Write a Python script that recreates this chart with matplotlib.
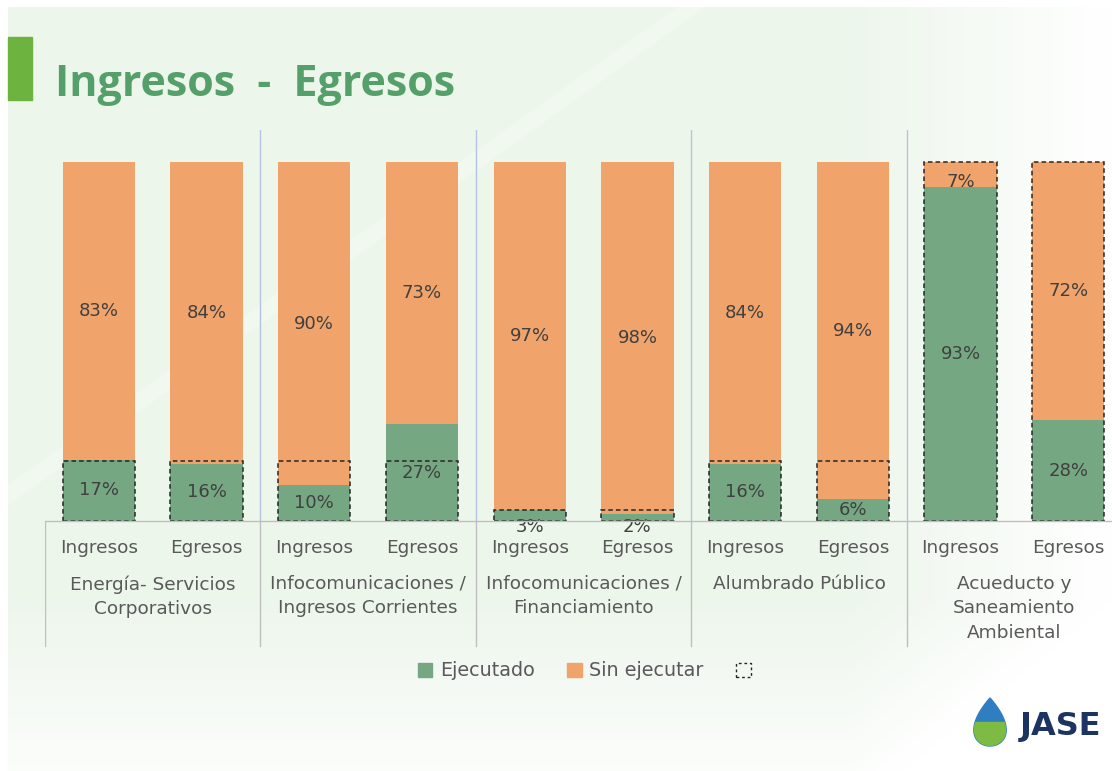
import numpy as np
import matplotlib
matplotlib.use("Agg")
import matplotlib.pyplot as plt
from matplotlib.patches import Rectangle, Polygon, Patch

# data
grupos = ["Energía- Servicios\nCorporativos", "Infocomunicaciones /\nIngresos Corrientes",
          "Infocomunicaciones /\nFinanciamiento", "Alumbrado Público",
          "Acueducto y\nSaneamiento\nAmbiental"]
tipos = ["Ingresos", "Egresos"]
ejecutado = [17, 16, 10, 27, 3, 2, 16, 6, 93, 28]
sin_ejecutar = [83, 84, 90, 73, 97, 98, 84, 94, 7, 72]
meta = [16.7, 16.7, 16.7, 16.7, 3, 3, 16.7, 16.7, 100, 100]

verde = "#75A882"
naranja = "#F0A36B"
gris_txt = "#595959"

W, H = 1112, 771
fig = plt.figure(figsize=(W / 100, H / 100), dpi=100)

# light green background wash
bg = fig.add_axes([0, 0, 1, 1], zorder=-10)
yy, xx = np.mgrid[0:H, 0:W]
t = np.clip(1 - np.maximum((xx - 850) / 262, 0) - np.maximum((yy - 600) / 171, 0) * 0.8, 0, 1)
band = np.abs((xx + yy * 1.4) - 700) < 14
t = np.where(band, t * 0.75, t)
light = np.array([0.93, 0.965, 0.925])
img = np.ones((H, W, 3)) * (1 - t[..., None]) + light * t[..., None]
img[:7, :] = 1
img[:, :8] = 1
bg.imshow(img, aspect="auto", extent=[0, W, H, 0])
bg.set_xlim(0, W)
bg.set_ylim(H, 0)
bg.axis("off")

# title block
bg.add_patch(Rectangle((8, 37), 24, 63, color="#6DB33F"))
bg.text(55, 96, "Ingresos  -  Egresos", fontsize=31, fontweight="bold", color="#55A06A",
        family="Open Sans", va="baseline", ha="left")

# logo: teardrop, blue on top, green below
tt = np.linspace(0, 2 * np.pi, 120)
drop = np.column_stack([990 + 21 * np.sin(tt) * np.sin(tt / 2), 722 - 24 * np.cos(tt)])
drop_patch = Polygon(drop, closed=True, color="#2F7EC1")
bg.add_patch(drop_patch)
low = Rectangle((965, 722), 50, 30, color="#7DBB42")
bg.add_patch(low)
low.set_clip_path(drop_patch)
bg.text(1020, 735, "JASE", fontsize=23, fontweight="bold", color="#1D3361", va="baseline", ha="left")

# main chart
ax = fig.add_axes([45 / W, 1 - 521 / H, (W - 45) / W, (521 - 130) / H])
ax.patch.set_alpha(0)
x = np.arange(len(ejecutado))
bw = 0.67
ax.bar(x, ejecutado, bw, color=verde, label="Ejecutado", zorder=2)
ax.bar(x, sin_ejecutar, bw, bottom=ejecutado, color=naranja, label="Sin ejecutar", zorder=2)
ax.bar(x, meta, bw, fill=False, edgecolor="#262626", linestyle=(0, (3, 2)), linewidth=1.1, zorder=3)

for i in range(len(x)):
    ax.text(x[i], ejecutado[i] / 2 if ejecutado[i] > 5 else -1.6, f"{ejecutado[i]}%",
            ha="center", va="center", fontsize=13, color="#404040", zorder=4)
    ax.text(x[i], ejecutado[i] + sin_ejecutar[i] / 2 - (2 if sin_ejecutar[i] < 10 else 0),
            f"{sin_ejecutar[i]}%", ha="center", va="center", fontsize=13, color="#404040", zorder=4)

ax.set_xlim(-0.5, (W - 99) / 107.7)
ax.set_ylim(0, 100 * (521 - 130) / (521 - 162))
ax.axis("off")

for b in [1.5, 3.5, 5.5, 7.5]:
    ax.axvline(b, ymin=0, ymax=1, color="#B4C3E0", linewidth=1, zorder=1)

# category axis drawn underneath
lab = fig.add_axes([45 / W, 1 - 650 / H, (W - 45) / W, (650 - 521) / H])
lab.patch.set_alpha(0)
lab.set_xlim(ax.get_xlim())
lab.set_ylim(650, 521)
lab.axis("off")
lab.plot([-0.5, 10], [521, 521], color="#BFBFBF", lw=1, clip_on=False)
for b in [-0.5, 1.5, 3.5, 5.5, 7.5]:
    lab.plot([b, b], [521, 646], color="#BFBFBF", lw=1)
for i in range(len(x)):
    lab.text(x[i], 548, tipos[i % 2], ha="center", va="center", fontsize=13.3, color=gris_txt)
for g, name in enumerate(grupos):
    lab.text(2 * g + 0.5, 575, name, ha="center", va="top", fontsize=13.3, color=gris_txt,
             linespacing=1.45, clip_on=False)

handles = [Patch(color=verde), Patch(color=naranja),
           Patch(facecolor="none", edgecolor="#262626", linestyle=(0, (2, 2)))]
fig.legend(handles, ["Ejecutado", "Sin ejecutar", ""], ncol=3, frameon=False,
           loc="center", bbox_to_anchor=(588 / W, 1 - 671 / H), fontsize=13.8,
           handlelength=0.75, handleheight=0.75, handletextpad=0.4, columnspacing=1.7,
           labelcolor=gris_txt)

fig.savefig("out.png", dpi=100)
